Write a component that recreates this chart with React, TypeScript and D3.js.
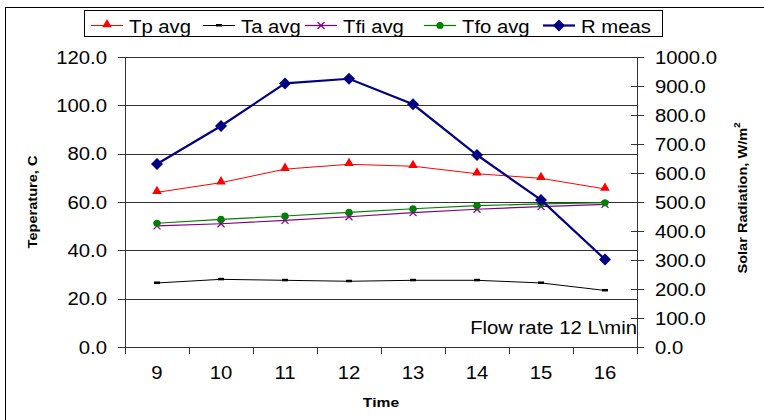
import React, { useEffect, useRef } from "react";
import * as d3 from "d3";

// hours of the day (x categories)
const hours = [9, 10, 11, 12, 13, 14, 15, 16];

// temperatures, C (left axis)
const tpAvg = [64.0, 68.0, 73.6, 75.6, 74.8, 71.7, 69.8, 65.4];
const taAvg = [26.5, 28.0, 27.6, 27.2, 27.6, 27.6, 26.5, 23.4];
const tfiAvg = [50.1, 51.0, 52.4, 53.9, 55.6, 57.0, 58.1, 59.0];
const tfoAvg = [51.2, 52.8, 54.2, 55.7, 57.2, 58.5, 59.2, 59.7];

// solar radiation, W/m2 (right axis)
const rMeas = [631, 762, 909, 925, 837, 662, 507, 302];

const leftTicks = [0, 20, 40, 60, 80, 100, 120];
const rightTicks = [0, 100, 200, 300, 400, 500, 600, 700, 800, 900, 1000];

const App = () => {
  const ref = useRef<SVGSVGElement | null>(null);

  useEffect(() => {
    const svg = d3.select(ref.current);
    svg.selectAll("*").remove();

    const font = "'Liberation Sans', Arial, sans-serif";
    const sx = 1.16; // excel text looks a bit stretched horizontally

    const plot = { left: 125, right: 637, top: 57, bottom: 347 };

    const x = d3
      .scaleBand<number>()
      .domain(hours)
      .range([plot.left, plot.right])
      .paddingInner(0)
      .paddingOuter(0);
    const cx = (h: number) => (x(h) as number) + x.bandwidth() / 2;
    const yL = d3.scaleLinear().domain([0, 120]).range([plot.bottom, plot.top]);
    const yR = d3.scaleLinear().domain([0, 1000]).range([plot.bottom, plot.top]);

    const txt = (
      g: d3.Selection<any, unknown, null, undefined>,
      px: number,
      py: number,
      s: string,
      anchor = "start",
      size = 17.5,
      bold = false
    ) =>
      g
        .append("text")
        .attr("transform", `translate(${px},${py}) scale(${sx},1)`)
        .attr("text-anchor", anchor)
        .attr("font-family", font)
        .attr("font-size", size)
        .attr("font-weight", bold ? "bold" : "normal")
        .attr("fill", "#000")
        .text(s);

    // background + outer border
    svg.append("rect").attr("width", 764).attr("height", 420).attr("fill", "#fff");
    svg
      .append("rect")
      .attr("x", 5.5)
      .attr("y", 7.5)
      .attr("width", 800)
      .attr("height", 500)
      .attr("fill", "none")
      .attr("stroke", "#000");

    // gridlines
    svg
      .selectAll(".grid")
      .data(leftTicks)
      .enter()
      .append("line")
      .attr("x1", plot.left - 7)
      .attr("x2", plot.right)
      .attr("y1", (d) => Math.round(yL(d)) + 0.5)
      .attr("y2", (d) => Math.round(yL(d)) + 0.5)
      .attr("stroke", "#333");

    // left axis
    svg
      .append("line")
      .attr("x1", plot.left + 0.5)
      .attr("x2", plot.left + 0.5)
      .attr("y1", plot.top)
      .attr("y2", plot.bottom + 7)
      .attr("stroke", "#333");
    leftTicks.forEach((t) => {
      txt(svg as any, 107, yL(t) + 6.5, t.toFixed(1), "end");
    });

    // right axis with crossing ticks
    svg
      .append("line")
      .attr("x1", plot.right + 0.5)
      .attr("x2", plot.right + 0.5)
      .attr("y1", plot.top)
      .attr("y2", plot.bottom + 7)
      .attr("stroke", "#333");
    svg
      .selectAll(".rtick")
      .data(rightTicks)
      .enter()
      .append("line")
      .attr("x1", plot.right - 6)
      .attr("x2", plot.right + 7)
      .attr("y1", (d) => Math.round(yR(d)) + 0.5)
      .attr("y2", (d) => Math.round(yR(d)) + 0.5)
      .attr("stroke", "#333");
    rightTicks.forEach((t) => {
      txt(svg as any, 655, yR(t) + 6.5, t.toFixed(1), "start");
    });

    // x axis ticks at category boundaries
    const bounds = hours.map((h) => x(h) as number).concat([plot.right]);
    svg
      .selectAll(".xtick")
      .data(bounds)
      .enter()
      .append("line")
      .attr("x1", (d) => Math.round(d) + 0.5)
      .attr("x2", (d) => Math.round(d) + 0.5)
      .attr("y1", plot.bottom)
      .attr("y2", plot.bottom + 7)
      .attr("stroke", "#333");
    hours.forEach((h) => {
      txt(svg as any, cx(h), 379, String(h), "middle");
    });

    // axis titles
    txt(svg as any, 381, 407, "Time", "middle", 13.5, true);
    svg
      .append("text")
      .attr("transform", `translate(37,202) rotate(-90) scale(1.08,1)`)
      .attr("text-anchor", "middle")
      .attr("font-family", font)
      .attr("font-size", 13.5)
      .attr("font-weight", "bold")
      .text("Teperature, C");
    const rt = svg
      .append("text")
      .attr("transform", `translate(747,198) rotate(-90) scale(1.08,1)`)
      .attr("text-anchor", "middle")
      .attr("font-family", font)
      .attr("font-size", 13.5)
      .attr("font-weight", "bold");
    rt.append("tspan").text("Solar Radiation, W/m");
    rt.append("tspan").attr("font-size", 9).attr("dy", -7).text("2");

    // note
    txt(svg as any, 637, 334, "Flow rate 12 L\\min", "end");

    // marker painters
    const tri = (g: any, px: number, py: number, c: string) =>
      g
        .append("path")
        .attr("d", d3.symbol(d3.symbolTriangle, 40)())
        .attr("transform", `translate(${px},${py - 1})`)
        .attr("fill", c);
    const dash = (g: any, px: number, py: number, c: string) =>
      g
        .append("rect")
        .attr("x", px - 3)
        .attr("y", py - 1.5)
        .attr("width", 6)
        .attr("height", 2.5)
        .attr("fill", c);
    const cross = (g: any, px: number, py: number, c: string) =>
      g
        .append("path")
        .attr("d", `M${px - 3.5},${py - 3.5}L${px + 3.5},${py + 3.5}M${px - 3.5},${py + 3.5}L${px + 3.5},${py - 3.5}`)
        .attr("stroke", c)
        .attr("stroke-width", 1.2);
    const dot = (g: any, px: number, py: number, c: string) =>
      g.append("circle").attr("cx", px).attr("cy", py).attr("r", 3.6).attr("fill", c);
    const diamond = (g: any, px: number, py: number, c: string) =>
      g
        .append("path")
        .attr("d", `M${px},${py - 6}L${px + 6},${py}L${px},${py + 6}L${px - 6},${py}Z`)
        .attr("fill", c);

    const series = [
      { name: "Tp avg", values: tpAvg, color: "#ff0000", width: 1, axis: yL, mark: tri },
      { name: "Ta avg", values: taAvg, color: "#000000", width: 1, axis: yL, mark: dash },
      { name: "Tfi avg", values: tfiAvg, color: "#800080", width: 1.2, axis: yL, mark: cross },
      { name: "Tfo avg", values: tfoAvg, color: "#008000", width: 1.2, axis: yL, mark: dot },
      { name: "R meas", values: rMeas, color: "#000080", width: 2.2, axis: yR, mark: diamond },
    ];

    series.forEach((s) => {
      const line = d3
        .line<number>()
        .x((_, i) => cx(hours[i]))
        .y((d) => s.axis(d));
      svg
        .append("path")
        .datum(s.values)
        .attr("d", line)
        .attr("fill", "none")
        .attr("stroke", s.color)
        .attr("stroke-width", s.width);
      s.values.forEach((v, i) => s.mark(svg, cx(hours[i]), s.axis(v), s.color));
    });

    // legend
    svg
      .append("rect")
      .attr("x", 84.5)
      .attr("y", 10.5)
      .attr("width", 578)
      .attr("height", 26)
      .attr("fill", "#fff")
      .attr("stroke", "#000");
    const legendX = [91, 203, 305, 424, 543];
    series.forEach((s, i) => {
      const lx = legendX[i];
      svg
        .append("line")
        .attr("x1", lx)
        .attr("x2", lx + 32)
        .attr("y1", 25.5)
        .attr("y2", 25.5)
        .attr("stroke", s.color)
        .attr("stroke-width", s.width);
      s.mark(svg, lx + 16, 25.5, s.color);
      txt(svg as any, lx + 38, 33, s.name, "start");
    });
  }, []);

  return (
    <svg
      ref={ref}
      width={764}
      height={420}
      style={{ position: "absolute", left: 0, top: 0 }}
    />
  );
};

export default App;
